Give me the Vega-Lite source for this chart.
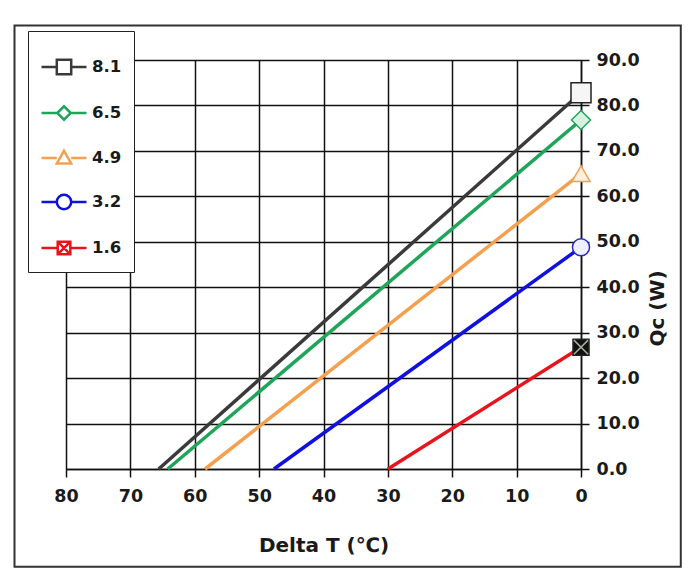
{
  "$schema": "https://vega.github.io/schema/vega-lite/v6.json",
  "width": 515,
  "height": 409,
  "autosize": {"type": "none"},
  "padding": {"left": 66, "top": 60, "right": 110, "bottom": 104},
  "background": "white",
  "config": {
    "font": "DejaVu Sans",
    "view": {"stroke": null},
    "axis": {
      "grid": true,
      "gridColor": "#111111",
      "gridWidth": 1.5,
      "gridOpacity": 1,
      "domainColor": "#111111",
      "domainWidth": 1.5,
      "tickColor": "#111111",
      "tickWidth": 1.5,
      "tickSize": 8,
      "labelFont": "DejaVu Sans",
      "labelFontSize": 17.5,
      "labelFontWeight": "bold",
      "labelColor": "#1a1a1a",
      "labelFlush": false,
      "titleFont": "DejaVu Sans",
      "titleFontSize": 20,
      "titleFontWeight": "bold",
      "titleColor": "#1a1a1a"
    }
  },
  "data": {
    "values": [
      {"series": "8.1", "dT": 65.6, "Qc": 0},
      {"series": "8.1", "dT": 0, "Qc": 82.8},
      {"series": "6.5", "dT": 64.2, "Qc": 0},
      {"series": "6.5", "dT": 0, "Qc": 76.8},
      {"series": "4.9", "dT": 58.4, "Qc": 0},
      {"series": "4.9", "dT": 0, "Qc": 65.0},
      {"series": "3.2", "dT": 47.7, "Qc": 0},
      {"series": "3.2", "dT": 0, "Qc": 48.8},
      {"series": "1.6", "dT": 30.0, "Qc": 0},
      {"series": "1.6", "dT": 0, "Qc": 26.8}
    ]
  },
  "layer": [
    {
      "data": {"values": [{}]},
      "mark": {"type": "rect", "fill": null, "stroke": "#333333", "strokeWidth": 2, "clip": false},
      "encoding": {
        "x": {"datum": 88.0, "type": "quantitative", "title": "Delta T (℃)"},
        "x2": {"datum": -15.5},
        "y": {"datum": 97.6, "type": "quantitative", "title": "Qc (W)"},
        "y2": {"datum": -21.5}
      }
    },
    {
      "mark": {"type": "line", "strokeWidth": 3.5},
      "encoding": {
        "x": {
          "field": "dT", "type": "quantitative", "title": "Delta T (℃)",
          "scale": {"domain": [0, 80], "reverse": true, "nice": false},
          "axis": {"orient": "bottom", "values": [0, 10, 20, 30, 40, 50, 60, 70, 80], "labelFlush": false, "labelPadding": 10, "titlePadding": 31}
        },
        "y": {
          "field": "Qc", "type": "quantitative", "title": "Qc (W)",
          "scale": {"domain": [0, 90], "nice": false},
          "axis": {"orient": "right", "values": [0, 10, 20, 30, 40, 50, 60, 70, 80, 90], "format": ".1f", "labelFlush": false, "labelPadding": 7, "titleAngle": 270, "titleX": 76, "titleY": 248, "titleAlign": "center", "titleBaseline": "middle"}
        },
        "stroke": {
          "field": "series", "type": "nominal", "legend": null,
          "scale": {"domain": ["8.1", "6.5", "4.9", "3.2", "1.6"], "range": ["#3a3a3a", "#1fa55a", "#f4a04f", "#1010e0", "#e8141c"]}
        }
      }
    },
    {
      "transform": [{"filter": "datum.dT == 0"}],
      "mark": {"type": "point", "filled": false, "strokeWidth": 1.5, "opacity": 1, "fillOpacity": 1},
      "encoding": {
        "x": {"field": "dT", "type": "quantitative"},
        "y": {"field": "Qc", "type": "quantitative"},
        "shape": {
          "field": "series", "type": "nominal", "legend": null,
          "scale": {"domain": ["8.1", "6.5", "4.9", "3.2", "1.6"], "range": ["square", "diamond", "triangle-up", "circle", "square"]}
        },
        "stroke": {
          "field": "series", "type": "nominal", "legend": null,
          "scale": {"domain": ["8.1", "6.5", "4.9", "3.2", "1.6"], "range": ["#222222", "#1fa55a", "#f4a04f", "#2a2ac8", "#222222"]}
        },
        "fill": {
          "field": "series", "type": "nominal", "legend": null,
          "scale": {"domain": ["8.1", "6.5", "4.9", "3.2", "1.6"], "range": ["#f6f6f6", "#d5f2e0", "#fdf0de", "#eef0ff", "#111111"]}
        },
        "size": {
          "field": "series", "type": "nominal", "legend": null,
          "scale": {"domain": ["8.1", "6.5", "4.9", "3.2", "1.6"], "range": [400, 256, 300, 324, 256]}
        }
      }
    },
    {
      "transform": [{"filter": "datum.dT == 0 && datum.series == '1.6'"}],
      "mark": {"type": "point", "shape": "M-1,-1L1,1M1,-1L-1,1", "size": 200, "stroke": "#e6f3e0", "strokeWidth": 1.5, "filled": false},
      "encoding": {
        "x": {"field": "dT", "type": "quantitative"},
        "y": {"field": "Qc", "type": "quantitative"}
      }
    },
    {
      "transform": [{"filter": "datum.dT == 0"}],
      "mark": {"type": "point", "opacity": 0, "filled": false},
      "encoding": {
        "x": {"field": "dT", "type": "quantitative"},
        "y": {"field": "Qc", "type": "quantitative"},
        "shape": {
          "field": "series", "type": "nominal",
          "scale": {"domain": ["8.1", "6.5", "4.9", "3.2", "1.6"], "range": [
            "M-1,0H-0.32M0.32,0H1M-0.32,-0.32H0.32V0.32H-0.32Z",
            "M-1,0H-0.3M0.3,0H1M-0.3,0L0,-0.3L0.3,0L0,0.3Z",
            "M-1,0H-0.32M0.32,0H1M0,-0.32L0.32,0.24L-0.32,0.24Z",
            "M-1,0H-0.32M0.32,0H1M-0.32,0A0.32,0.32,0,1,1,0.32,0A0.32,0.32,0,1,1,-0.32,0Z",
            "M-1,0H-0.28M0.28,0H1M-0.28,-0.28H0.28V0.28H-0.28ZM-0.28,-0.28L0.28,0.28M0.28,-0.28L-0.28,0.28"
          ]},
          "legend": {
            "title": null,
            "orient": "none",
            "legendX": -38,
            "legendY": -29,
            "strokeColor": "#222222",
            "fillColor": "white",
            "padding": 12,
            "rowPadding": 9,
            "symbolSize": 2025,
            "symbolStrokeWidth": 2.5,
            "labelFont": "DejaVu Sans",
            "labelFontSize": 16.5,
            "labelFontWeight": "bold",
            "labelColor": "#1a1a1a",
            "labelOffset": 4,
            "encode": {
              "legend": {"update": {"strokeWidth": {"value": 1.5}}},
              "symbols": {"update": {"opacity": {"value": 1}, "fillOpacity": {"value": 1}, "strokeOpacity": {"value": 1}}}
            }
          }
        },
        "stroke": {
          "field": "series", "type": "nominal",
          "scale": {"domain": ["8.1", "6.5", "4.9", "3.2", "1.6"], "range": ["#3a3a3a", "#1fa55a", "#f4a04f", "#1010e0", "#e8141c"]}
        },
        "fill": {
          "field": "series", "type": "nominal",
          "scale": {"domain": ["8.1", "6.5", "4.9", "3.2", "1.6"], "range": ["#f6f6f6", "#d5f2e0", "#fdf0de", "#eef0ff", "#111111"]}
        }
      }
    }
  ],
  "resolve": {
    "scale": {"stroke": "independent", "fill": "independent", "shape": "independent", "size": "independent"},
    "legend": {"stroke": "independent", "fill": "independent", "shape": "independent"}
  }
}
